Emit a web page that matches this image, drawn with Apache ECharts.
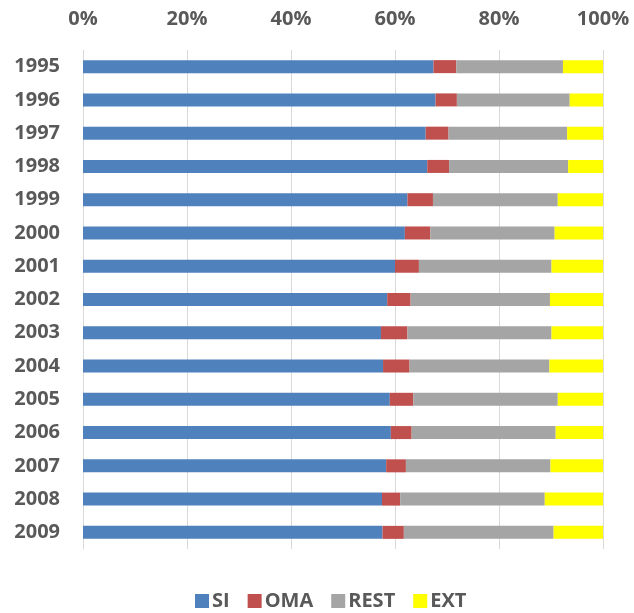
<!DOCTYPE html>
<html>
<head>
<meta charset="utf-8">
<script src="https://cdn.jsdelivr.net/npm/echarts@6/dist/echarts.min.js"></script>
<style>
  html, body { margin: 0; padding: 0; background: #fff; }
  #chart { width: 634px; height: 613px; }
</style>
</head>
<body>
<div id="chart"></div>
<script>
// Share of each component per year (percent of total)
const years = ['1995','1996','1997','1998','1999','2000','2001','2002','2003','2004','2005','2006','2007','2008','2009'];
const si   = [67.4, 67.8, 65.9, 66.2, 62.4, 61.9, 60.0, 58.5, 57.3, 57.7, 59.0, 59.2, 58.3, 57.5, 57.6];
const oma  = [4.4, 4.1, 4.4, 4.2, 4.9, 4.9, 4.6, 4.5, 5.1, 5.1, 4.5, 4.0, 3.8, 3.5, 4.1];
const rest = [20.5, 21.7, 22.8, 22.9, 24.0, 23.9, 25.5, 26.8, 27.7, 26.9, 27.8, 27.7, 27.8, 27.8, 28.8];
const ext  = [7.7, 6.4, 6.9, 6.7, 8.7, 9.3, 9.9, 10.2, 9.9, 10.3, 8.7, 9.1, 10.1, 11.2, 9.5];
const seriesNames = ['SI', 'OMA', 'REST', 'EXT'];
const colors = ['#4f81bd', '#c0504d', '#a5a5a5', '#ffff00'];

const FONT = '"Open Sans", "Noto Sans", sans-serif';
const TEXT_COLOR = '#595959';

const chart = echarts.init(document.getElementById('chart'), null, { renderer: 'canvas' });

const values = [si, oma, rest, ext];
const series = seriesNames.map((name, i) => ({
  name: name,
  type: 'bar',
  stack: 'total',
  barWidth: 13,
  itemStyle: { color: colors[i] },
  emphasis: { disabled: true },
  data: values[i]
}));

chart.setOption({
  animation: false,
  backgroundColor: '#ffffff',
  color: colors,
  grid: { left: 83, right: 31, top: 50, bottom: 64, containLabel: false },
  xAxis: {
    type: 'value',
    position: 'top',
    min: 0,
    max: 100,
    interval: 20,
    axisLine: { show: false },
    axisTick: { show: false },
    splitLine: { show: true, lineStyle: { color: '#d9d9d9', width: 1 } },
    axisLabel: {
      formatter: '{value}%',
      margin: 21,
      color: TEXT_COLOR,
      fontFamily: FONT,
      fontWeight: 'bold',
      fontSize: 20
    }
  },
  yAxis: {
    type: 'category',
    inverse: true,
    data: years,
    axisLine: { show: true, lineStyle: { color: '#d9d9d9', width: 1 } },
    axisTick: { show: false },
    axisLabel: {
      margin: 23,
      color: TEXT_COLOR,
      fontFamily: FONT,
      fontWeight: 'bold',
      fontSize: 20
    }
  },
  legend: {
    data: seriesNames,
    left: 190,
    top: 586,
    icon: 'rect',
    itemWidth: 14,
    itemHeight: 14,
    itemGap: 18,
    textStyle: {
      color: TEXT_COLOR,
      fontFamily: FONT,
      fontWeight: 'bold',
      fontSize: 20,
      padding: [0, 0, 0, -2]
    }
  },
  series: series
});
</script>
</body>
</html>
